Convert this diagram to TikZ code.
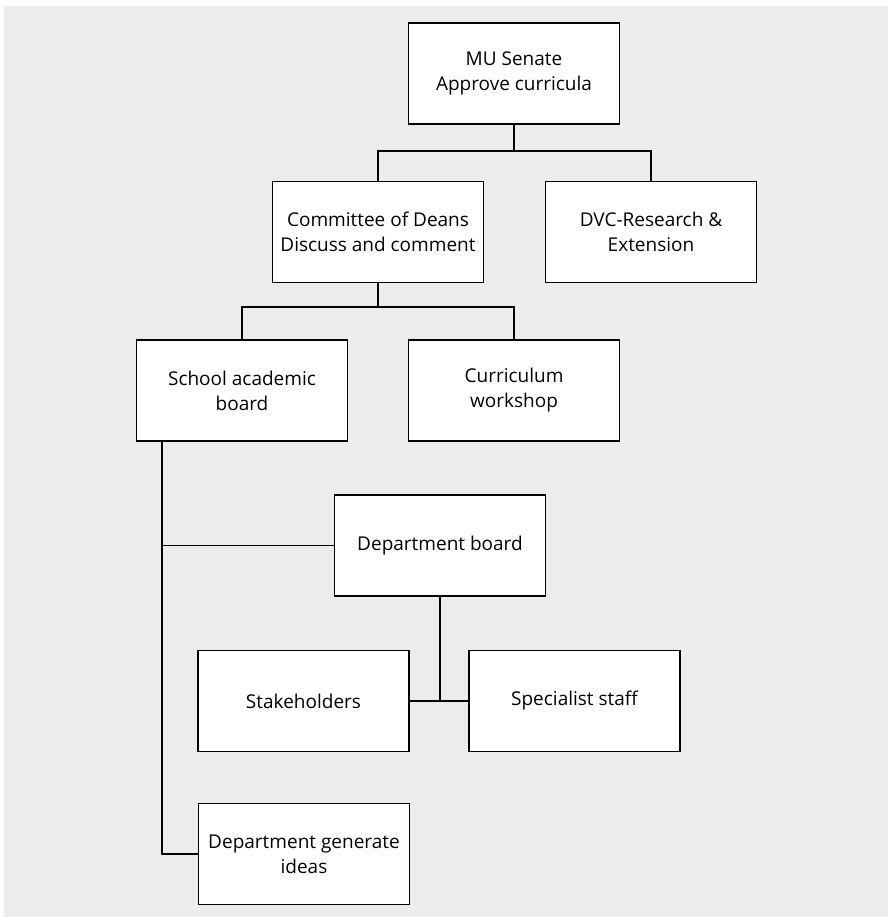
\documentclass[tikz,border=0pt]{standalone}
\usepackage{fontspec}
\setmainfont{Open Sans}
\definecolor{bggray}{HTML}{ECECEC}
\begin{document}
\begin{tikzpicture}[x=1pt,y=-1pt,
  orgbox/.style={draw=black,fill=white,line width=1.2pt,minimum width=211pt,minimum height=101pt,
    align=center,inner sep=0pt,font=\fontsize{19}{25}\selectfont},
  link/.style={draw=black,line width=1.2pt}]
\useasboundingbox (0,0) rectangle (888,917);
\fill[bggray] (4,6) rectangle (888,917);
\node[orgbox] (senate) at (514,73.5) {MU Senate\\Approve curricula};
\node[orgbox] (deans) at (378,232) {Committee of Deans\\Discuss and comment};
\node[orgbox] (dvc) at (651,232) {DVC-Research \&\\Extension};
\node[orgbox] (school) at (242,390.5) {School academic\\board};
\node[orgbox] (workshop) at (514,390.5) {Curriculum\\workshop};
\node[orgbox] (dept) at (440,545.5) {Department board};
\node[orgbox] (stake) at (303.5,701) {Stakeholders};
\node[orgbox] (spec) at (574.5,701) {Specialist staff};
\node[orgbox] (ideas) at (304,854) {Department generate\\ideas};
\coordinate (j1) at (514,151);
\coordinate (j2) at (378,307);
\coordinate (j3) at (440,701);
\coordinate (sl) at (162,441);
\draw[link] (senate.south) -- (j1);
\draw[link] (deans.north) |- (j1) -| (dvc.north);
\draw[link] (deans.south) -- (j2);
\draw[link] (school.north) |- (j2) -| (workshop.north);
\draw[link] (sl) |- (ideas.west);
\draw[link] (sl |- dept.west) -- (dept.west);
\draw[link] (dept.south) -- (j3);
\draw[link] (stake.east) -- (spec.west);
\end{tikzpicture}
\end{document}
